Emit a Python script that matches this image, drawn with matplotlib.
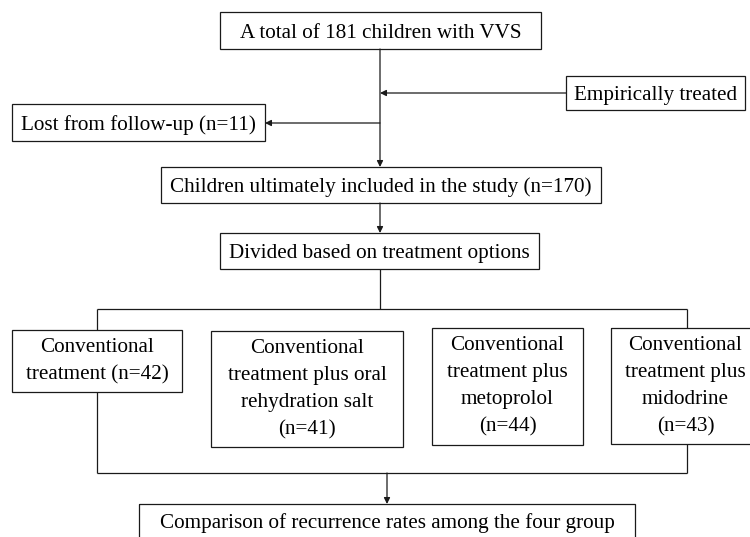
import matplotlib.pyplot as plt
from matplotlib.patches import Rectangle

# flowchart texts
top_label = "A total of 181 children with VVS"
empirical_label = "Empirically treated"
lost_label = "Lost from follow-up (n=11)"
included_label = "Children ultimately included in the study (n=170)"
divided_label = "Divided based on treatment options"
group_labels = [
    "Conventional\ntreatment (n=42)",
    "Conventional\ntreatment plus oral\nrehydration salt\n(n=41)",
    "Conventional\ntreatment plus\nmetoprolol\n(n=44)",
    "Conventional\ntreatment plus\nmidodrine\n(n=43)",
]
final_label = "Comparison of recurrence rates among the four group"

LINE = "#1a1a1a"
FONT = "Liberation Serif"
FS = 15.2


def box(ax, x0, y0, x1, y1, text, ty=None):
    ax.add_patch(Rectangle((x0, y0), x1 - x0, y1 - y0, fill=False,
                           edgecolor=LINE, lw=0.9))
    if ty is None:
        ty = (y0 + y1) / 2
    va = "center" if "\n" in text else "center_baseline"
    ax.text((x0 + x1) / 2, ty, text, ha="center", va=va,
            fontsize=FS, family=FONT, linespacing=1.57, color="black")


def line(ax, xs, ys):
    ax.plot(xs, ys, color=LINE, lw=0.9, solid_capstyle="butt")


def arrow(ax, start, end):
    ax.annotate("", xy=end, xytext=start,
                arrowprops=dict(arrowstyle="-|>", color=LINE, lw=0.9,
                                mutation_scale=9, shrinkA=0, shrinkB=0))


def main():
    fig = plt.figure(figsize=(7.5, 5.37), dpi=100)
    ax = fig.add_axes([0, 0, 1, 1])
    ax.set_xlim(0, 750)
    ax.set_ylim(537, 0)
    ax.axis("off")

    box(ax, 220, 12, 541, 49, top_label)
    box(ax, 566, 76, 745, 110, empirical_label)
    box(ax, 12, 104, 265, 141, lost_label)
    box(ax, 161, 167, 601, 203, included_label)
    box(ax, 220, 233, 539, 269, divided_label)

    group_boxes = [(12, 330, 182, 392), (211, 331, 403, 447),
                   (432, 328, 583, 445), (611, 328, 760, 444)]
    for (x0, y0, x1, y1), lab in zip(group_boxes, group_labels):
        box(ax, x0, y0, x1, y1, lab)

    box(ax, 139, 504, 635, 540, final_label, ty=521)

    # main trunk
    arrow(ax, (380, 49), (380, 167))
    arrow(ax, (566, 93), (380, 93))
    arrow(ax, (380, 123), (265, 123))
    arrow(ax, (380, 203), (380, 233))
    line(ax, [380, 380], [269, 309])

    # split and merge
    line(ax, [97, 687], [309, 309])
    line(ax, [97, 97], [309, 330])
    line(ax, [687, 687], [309, 328])
    line(ax, [97, 97], [392, 473])
    line(ax, [687, 687], [444, 473])
    line(ax, [97, 687], [473, 473])
    arrow(ax, (387, 473), (387, 504))

    fig.savefig("out.png", dpi=100)


if __name__ == "__main__":
    main()
